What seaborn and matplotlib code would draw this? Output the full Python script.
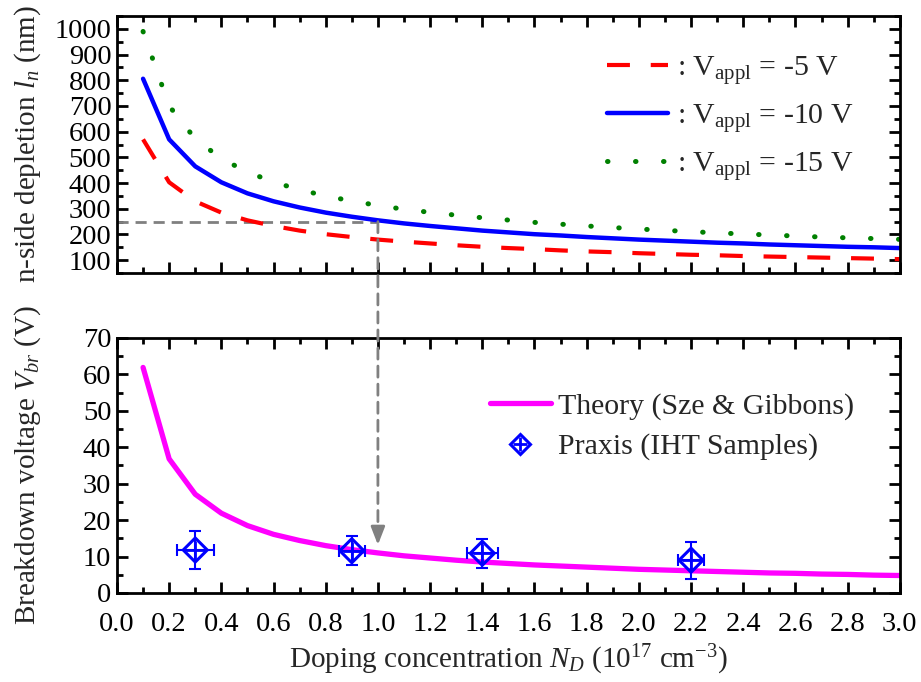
import numpy as np
import pandas as pd
import matplotlib
matplotlib.use("Agg")
import matplotlib.pyplot as plt
import seaborn as sns
from matplotlib.patches import ConnectionPatch
from matplotlib.lines import Line2D
from matplotlib.ticker import MultipleLocator, FormatStrFormatter

# ---------------- data ----------------
doping = [0.1, 0.2, 0.3, 0.4, 0.5, 0.6, 0.7, 0.8, 0.9, 1.0,
          1.1, 1.2, 1.3, 1.4, 1.5, 1.6, 1.7, 1.8, 1.9, 2.0,
          2.1, 2.2, 2.3, 2.4, 2.5, 2.6, 2.7, 2.8, 2.9, 3.0]
ln_5V = [570, 403, 329, 285, 255, 233, 215, 201, 190, 180,
         172, 165, 158, 152, 147, 143, 138, 134, 131, 127,
         124, 121, 119, 116, 114, 112, 110, 108, 106, 104]
ln_10V = [806, 570, 465, 403, 360, 329, 305, 285, 269, 255,
          243, 233, 224, 215, 208, 201, 196, 190, 185, 180,
          176, 172, 168, 165, 161, 158, 155, 152, 150, 147]
ln_15V = [990, 700, 572, 495, 443, 404, 374, 350, 330, 313,
          298, 286, 275, 265, 256, 247, 240, 233, 227, 221,
          216, 211, 206, 202, 198, 194, 190, 187, 184, 181]
vbr_theory = [61.9, 36.8, 27.1, 21.9, 18.5, 16.1, 14.4, 13.0, 11.9, 11.0,
              10.2, 9.6, 9.0, 8.5, 8.1, 7.7, 7.4, 7.1, 6.8, 6.5,
              6.3, 6.1, 5.9, 5.7, 5.5, 5.4, 5.2, 5.1, 4.9, 4.8]
praxis_x = [0.3, 0.9, 1.4, 2.2]
praxis_y = [11.8, 11.6, 10.9, 9.0]
praxis_xerr = [0.07, 0.05, 0.06, 0.05]
praxis_yerr = [5.1, 4.0, 4.0, 5.1]
ref_doping = 1.0
ref_ln = 250
ref_vbr = 13.2

x_ticks = [0.0, 0.2, 0.4, 0.6, 0.8, 1.0, 1.2, 1.4, 1.6, 1.8, 2.0,
           2.2, 2.4, 2.6, 2.8, 3.0]
top_yticks = [100, 200, 300, 400, 500, 600, 700, 800, 900, 1000]
bot_yticks = [0, 10, 20, 30, 40, 50, 60, 70]

# ---------------- style ----------------
sns.set_theme(style="ticks")
plt.rcParams['font.family'] = ['Liberation Serif', 'DejaVu Serif']
plt.rcParams['mathtext.fontset'] = 'custom'
plt.rcParams['mathtext.rm'] = 'Liberation Serif'
plt.rcParams['mathtext.it'] = 'Liberation Serif:italic'
plt.rcParams['mathtext.bf'] = 'Liberation Serif:bold'

TICK_FS = 20.5
LABEL_FS = 21
LEG_FS = 21.5

fig = plt.figure(figsize=(9.21, 6.82), dpi=100)
ax1 = fig.add_axes([0.127, 0.5997, 0.85, 0.3768])
ax2 = fig.add_axes([0.127, 0.1305, 0.85, 0.374])

RED, BLUE, GREEN, MAG, GRAY = '#ff0000', '#0000ff', '#008000', '#ff00ff', '#808080'

df_top = pd.DataFrame({'N': doping, 'a': ln_5V, 'b': ln_10V, 'c': ln_15V})
sns.lineplot(data=df_top, x='N', y='a', ax=ax1, color=RED, lw=3.0,
             linestyle=(0, (5.5, 5.0)), label=r': V$_{\mathrm{appl}}$ = -5 V')
sns.lineplot(data=df_top, x='N', y='b', ax=ax1, color=BLUE, lw=3.2,
             label=r': V$_{\mathrm{appl}}$ = -10 V')
sns.lineplot(data=df_top, x='N', y='c', ax=ax1, color=GREEN, lw=3.6,
             linestyle=(0, (0.1, 5.5)), dash_capstyle='round',
             label=r': V$_{\mathrm{appl}}$ = -15 V')
for ln in ax1.get_lines():
    if ln.get_color() == GREEN:
        ln.set_dash_capstyle('round')

ax1.plot([0, ref_doping], [ref_ln, ref_ln], color=GRAY, lw=2.0,
         linestyle=(0, (4, 2.5)), zorder=1)

df_bot = pd.DataFrame({'N': doping, 'V': vbr_theory})
sns.lineplot(data=df_bot, x='N', y='V', ax=ax2, color=MAG, lw=3.8, zorder=2)

ax2.errorbar(praxis_x, praxis_y, xerr=praxis_xerr, yerr=praxis_yerr,
             fmt='none', ecolor=BLUE, elinewidth=1.5, capsize=4, capthick=1.5, zorder=3)
sns.scatterplot(x=praxis_x, y=praxis_y, ax=ax2, marker='D', s=150,
                facecolor='none', edgecolor=BLUE, linewidth=2.2, zorder=4)
sns.scatterplot(x=praxis_x, y=praxis_y, ax=ax2, marker='+', s=150,
                color=BLUE, linewidth=2.0, zorder=4)

# vertical dashed connector + arrow
con = ConnectionPatch(xyA=(ref_doping, ref_ln), coordsA=ax1.transData,
                      xyB=(ref_doping, ref_vbr + 4.5), coordsB=ax2.transData,
                      color=GRAY, lw=2.0, linestyle=(0, (4, 2.5)), zorder=5)
fig.add_artist(con)
ax2.annotate('', xy=(ref_doping, ref_vbr), xytext=(ref_doping, ref_vbr + 5),
             arrowprops=dict(arrowstyle='-|>,head_length=0.9,head_width=0.35',
                             color=GRAY, lw=2.0, shrinkA=0, shrinkB=0))

# ---------------- axes ----------------
for ax in (ax1, ax2):
    ax.set_xlim(0, 3.0)
    ax.set_xticks(x_ticks)
    ax.xaxis.set_minor_locator(MultipleLocator(0.1))
    ax.tick_params(which='both', direction='in', top=True, right=True,
                   width=2.0, colors='black', labelsize=TICK_FS)
    ax.tick_params(which='major', length=8)
    ax.tick_params(which='minor', length=4)
    ax.tick_params(axis='y', pad=4)
    for s in ax.spines.values():
        s.set_linewidth(2.0)
        s.set_color('black')
    ax.set_facecolor('white')

ax1.set_ylim(50, 1050)
ax1.set_yticks(top_yticks)
ax1.yaxis.set_minor_locator(MultipleLocator(50))
ax1.tick_params(axis='x', labelbottom=False)
ax1.set_xlabel('')
ax1.set_ylabel(r'n-side depletion $l_n$ (nm)', fontsize=LABEL_FS)
ax1.yaxis.set_label_coords(-0.095, 0.5)

ax2.set_ylim(0, 70)
ax2.set_yticks(bot_yticks)
ax2.yaxis.set_minor_locator(MultipleLocator(5))
ax2.xaxis.set_major_formatter(FormatStrFormatter('%.1f'))
ax2.set_ylabel(r'Breakdown voltage $V_{br}$ (V)', fontsize=LABEL_FS)
ax2.yaxis.set_label_coords(-0.095, 0.5)
ax2.set_xlabel(r'Doping concentration $N_D$ (10$^{17}$ cm$^{-3}$)', fontsize=LABEL_FS, labelpad=4)
ax2.tick_params(axis='x', pad=14)

leg1 = ax1.legend(loc='upper left', bbox_to_anchor=(0.626, 0.853), frameon=False,
                  fontsize=LEG_FS, handlelength=2.05, handletextpad=0.3, labelspacing=0.5,
                  borderpad=0, borderaxespad=0)

h_theory = Line2D([], [], color=MAG, lw=3.8)
h_diam = Line2D([], [], marker='D', ms=10, mfc='none', mec=BLUE, mew=2.2, ls='none')
h_plus = Line2D([], [], marker='+', ms=10, mec=BLUE, mew=2.0, ls='none')
ax2.legend([h_theory, (h_diam, h_plus)],
           ['Theory (Sze & Gibbons)', 'Praxis (IHT Samples)'],
           loc='upper left', bbox_to_anchor=(0.476, 0.786), frameon=False,
           fontsize=LEG_FS, handlelength=2.05, handletextpad=0.25, labelspacing=0.45,
           borderpad=0, borderaxespad=0)

fig.savefig('out.png', dpi=100, facecolor='white')
